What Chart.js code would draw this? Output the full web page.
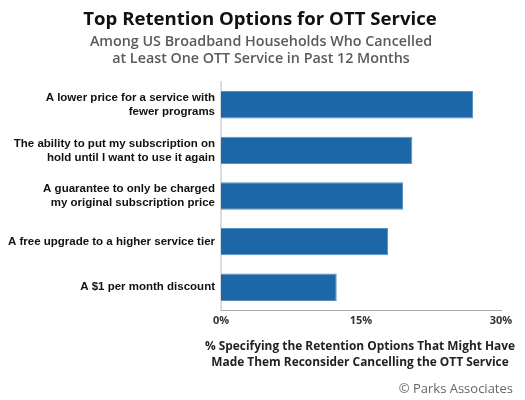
<!DOCTYPE html>
<html>
<head>
<meta charset="utf-8">
<script src="https://cdn.jsdelivr.net/npm/chart.js@4/dist/chart.umd.min.js"></script>
<style>
  html, body { margin: 0; padding: 0; background: #fff; }
  #wrap { position: relative; width: 525px; height: 400px; }
</style>
</head>
<body>
<div id="wrap"><canvas id="c" width="525" height="400"></canvas></div>
<script>
const categories = [
  ["A lower price for a service with", "fewer programs"],
  ["The ability to put my subscription on", "hold until I want to use it again"],
  ["A guarantee to only be charged", "my original subscription price"],
  "A free upgrade to a higher service tier",
  "A $1 per month discount"
];
const values = [27, 20.5, 19.5, 17.9, 12.4];
const xTicks = [0, 15, 30];
const titleText = "Top Retention Options for OTT Service";
const subtitleText = ["Among US Broadband Households Who Cancelled", "at Least One OTT Service in Past 12 Months"];
const xTitleText = ["% Specifying the Retention Options That Might Have", "Made Them Reconsider Cancelling the OTT Service"];
const sourceText = "\u00A9 Parks Associates";

const mainFont = "'Open Sans', Lato, sans-serif";
const labelFont = "'Liberation Sans', Arial, sans-serif";

const textPlugin = {
  id: 'texts',
  afterDraw(chart) {
    const ctx = chart.ctx;
    const area = chart.chartArea;
    ctx.save();
    ctx.textAlign = 'center';
    ctx.textBaseline = 'middle';
    ctx.fillStyle = '#111';
    ctx.font = "bold 18.6px " + mainFont;
    ctx.fillText(titleText, 260, 20);
    ctx.fillStyle = '#5a5a5a';
    ctx.font = "600 14.3px " + mainFont;
    ctx.fillText(subtitleText[0], 261, 42);
    ctx.fillText(subtitleText[1], 261, 59);
    // x axis title, centred under the plot area
    const cx = (area.left + area.right) / 2 - 1;
    ctx.fillStyle = '#222';
    ctx.font = "bold 11.9px " + mainFont;
    ctx.fillText(xTitleText[0], cx, 347);
    ctx.fillText(xTitleText[1], cx, 363);
    ctx.fillStyle = '#666';
    ctx.textAlign = 'right';
    ctx.font = "13px " + mainFont;
    ctx.fillText(sourceText, 513, 389);
    ctx.restore();
  }
};

new Chart(document.getElementById('c'), {
  type: 'bar',
  data: {
    labels: categories,
    datasets: [{
      data: values,
      backgroundColor: '#1b67a7',
      borderColor: '#5a92c4',
      borderWidth: 1,
      barPercentage: 0.6,
      categoryPercentage: 1
    }]
  },
  options: {
    indexAxis: 'y',
    responsive: false,
    animation: false,
    layout: { padding: { left: 0, right: 24, top: 82, bottom: 68 } },
    plugins: {
      legend: { display: false },
      tooltip: { enabled: false },
      title: { display: false },
      subtitle: { display: false }
    },
    scales: {
      y: {
        grid: { display: false, drawTicks: false },
        border: { display: true, color: '#dddddd', width: 2 },
        ticks: {
          color: '#111',
          padding: 6,
          font: { family: labelFont, size: 11.5, weight: 'bold', lineHeight: 1.22 }
        },
        afterFit(scale) { scale.width = 221; }
      },
      x: {
        min: 0,
        max: 30,
        grid: { display: false, drawTicks: false },
        border: { display: true, color: '#aaaaaa', width: 1, dash: [1, 2] },
        afterBuildTicks(scale) { scale.ticks = xTicks.map(v => ({ value: v })); },
        ticks: {
          color: '#333',
          padding: 4.4,
          maxRotation: 0,
          font: { family: mainFont, size: 11, weight: 'bold', lineHeight: 1.2 },
          callback: v => v + '%'
        },
        title: { display: false }
      }
    }
  },
  plugins: [textPlugin]
});
</script>
</body>
</html>
